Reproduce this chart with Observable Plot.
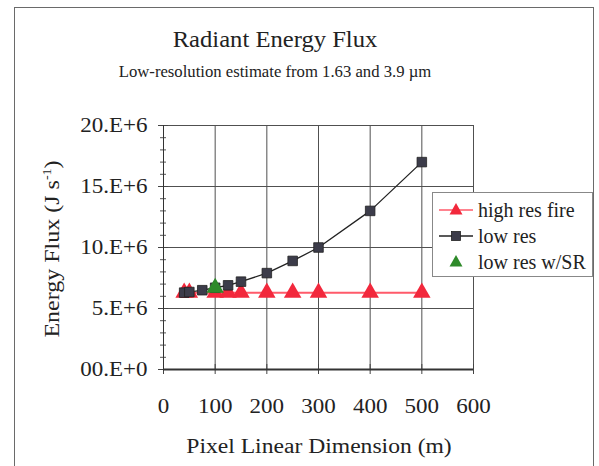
<!DOCTYPE html>
<html>
<head>
<meta charset="utf-8">
<script src="https://cdn.jsdelivr.net/npm/d3@7"></script>
<script src="https://cdn.jsdelivr.net/npm/@observablehq/plot@0.6"></script>
<style>
  html, body { margin: 0; padding: 0; background: #fff; }
  body { width: 599px; height: 466px; position: relative; overflow: hidden; font-family: "Liberation Serif", "Times New Roman", serif; color: #222; }
  #frame { position: absolute; left: 14px; top: 7px; width: 580px; height: 470px; border: 1px solid #6a6a6a; border-bottom: none; box-sizing: border-box; }
  #chart { position: absolute; left: 0; top: 0; }
  .t { position: absolute; white-space: nowrap; }
  #title { left: 275px; top: 40px; transform: translate(-50%, -50%) scaleX(1.07); font-size: 23px; }
  #subtitle { left: 275px; top: 72px; transform: translate(-50%, -50%) scaleX(1.03); font-size: 16.2px; }
  #xlabel { left: 319px; top: 446px; transform: translate(-50%, -50%) scaleX(1.18); font-size: 20px; }
  #ylabel { left: 52px; top: 249px; transform: translate(-50%, -50%) rotate(-90deg) scaleX(1.17); font-size: 20.5px; }
  #ylabel sup { font-size: 12px; }
  #legend { position: absolute; left: 432px; top: 192px; width: 161px; height: 85px; background: #fff; border: 1px solid #888; box-sizing: border-box; }
  .row { position: absolute; left: 0; height: 22px; display: flex; align-items: center; font-size: 20px; }
  .row svg { margin-left: 6px; margin-right: 5px; }
</style>
</head>
<body>
<script>
// ---- data ----
const highResX = [40, 50, 100, 125, 150, 200, 250, 300, 400, 500];
const highResY = [6.3e6, 6.3e6, 6.3e6, 6.3e6, 6.3e6, 6.3e6, 6.3e6, 6.3e6, 6.3e6, 6.3e6];
const lowResX = [40, 50, 75, 100, 125, 150, 200, 250, 300, 400, 500];
const lowResY = [6.3e6, 6.35e6, 6.5e6, 6.7e6, 6.9e6, 7.2e6, 7.9e6, 8.9e6, 10.0e6, 13.0e6, 17.0e6];
const srX = [100];
const srY = [6.7e6];
const xTicks = [0, 100, 200, 300, 400, 500, 600];
const yTicks = [0, 5e6, 10e6, 15e6, 20e6];
const yTickLabels = ["00.E+0", "5.E+6", "10.E+6", "15.E+6", "20.E+6"];
const seriesNames = ["high res fire", "low res", "low res w/SR"];
const colors = {red: "#f2283c", redLine: "#ff5a6a", dark: "#3c3c4a", green: "#2e8a2a", grid: "#505050"};

const highRes = highResX.map((x, i) => ({x, y: highResY[i]}));
const lowRes = lowResX.map((x, i) => ({x, y: lowResY[i]}));
const sr = srX.map((x, i) => ({x, y: srY[i]}));
const minorY = d3.range(0, 20e6 + 1, 1e6);

const chart = Plot.plot({
  width: 599,
  height: 466,
  marginLeft: 163,
  marginRight: 126,
  marginTop: 125,
  marginBottom: 97,
  style: {fontFamily: "'Liberation Serif', 'Times New Roman', serif", fontSize: "20px", color: "#222", background: "transparent"},
  x: {domain: [0, 600]},
  y: {domain: [0, 20e6]},
  marks: [
    Plot.gridX(xTicks, {stroke: colors.grid, strokeOpacity: 1, strokeWidth: 1}),
    Plot.gridY(yTicks, {stroke: colors.grid, strokeOpacity: 1, strokeWidth: 1}),
    Plot.axisY(minorY, {tickSize: 3, text: null, label: null, stroke: "#555"}),
    Plot.axisY(minorY, {tickSize: -3, text: null, label: null, stroke: "#555"}),
    Plot.axisY(yTicks, {tickSize: 5, tickPadding: 11, tickFormat: d => yTickLabels[yTicks.indexOf(d)], label: null, stroke: "#444"}),
    Plot.axisY(yTicks, {tickSize: -5, text: null, label: null, stroke: "#444"}),
    Plot.axisX(xTicks, {tickSize: 5, tickPadding: 24, label: null, stroke: "#444"}),
    Plot.axisX(xTicks, {tickSize: -5, text: null, label: null, stroke: "#444"}),
    Plot.ruleY([0], {stroke: "#333", strokeWidth: 2}),
    Plot.ruleX([0], {stroke: "#333", strokeWidth: 1}),
    Plot.line(highRes, {x: "x", y: "y", stroke: colors.redLine, strokeWidth: 2}),
    Plot.line(lowRes, {x: "x", y: "y", stroke: "#222", strokeWidth: 1.3}),
    Plot.dot(highRes, {x: "x", y: "y", symbol: "triangle", r: 6.5, fill: colors.red, stroke: "none"}),
    Plot.dot(lowRes, {x: "x", y: "y", symbol: "square", r: 5.4, fill: colors.dark, stroke: "#222", strokeWidth: 0.8}),
    Plot.dot(sr, {x: "x", y: "y", symbol: "triangle", r: 6.5, fill: colors.green, stroke: "none"})
  ]
});
chart.id = "chart";
document.body.appendChild(chart);

// widen tick label glyphs slightly to match the reference's wide type
d3.select(chart).selectAll("g[aria-label$='tick label'] text").each(function() {
  const len = this.getComputedTextLength();
  if (len > 0) {
    this.setAttribute("textLength", (len * 1.15).toFixed(1));
    this.setAttribute("lengthAdjust", "spacingAndGlyphs");
  }
});

const frame = document.createElement("div");
frame.id = "frame";
document.body.appendChild(frame);

function addText(id, html) {
  const d = document.createElement("div");
  d.className = "t";
  d.id = id;
  d.innerHTML = html;
  document.body.appendChild(d);
}
addText("title", "Radiant Energy Flux");
addText("subtitle", "Low-resolution estimate from 1.63 and 3.9 \u00b5m");
addText("xlabel", "Pixel Linear Dimension (m)");
addText("ylabel", "Energy Flux (J s<sup>-1</sup>)");

// legend
const legend = document.createElement("div");
legend.id = "legend";
const symbols = [
  `<line x1="0" x2="34" y1="10" y2="10" stroke="${colors.redLine}" stroke-width="1.5"/><path d="M17,3 L23.5,14.5 L10.5,14.5 Z" fill="${colors.red}"/>`,
  `<line x1="0" x2="34" y1="10" y2="10" stroke="#222" stroke-width="1.5"/><rect x="12.5" y="5.5" width="9" height="9" fill="${colors.dark}" stroke="#222" stroke-width="0.8"/>`,
  `<path d="M17,3 L23.5,14.5 L10.5,14.5 Z" fill="${colors.green}"/>`
];
const rowTops = [6, 32, 58];
seriesNames.forEach((name, i) => {
  const r = document.createElement("div");
  r.className = "row";
  r.style.top = rowTops[i] + "px";
  r.innerHTML = `<svg width="34" height="20">${symbols[i]}</svg><span>${name}</span>`;
  legend.appendChild(r);
});
document.body.appendChild(legend);
</script>
</body>
</html>
